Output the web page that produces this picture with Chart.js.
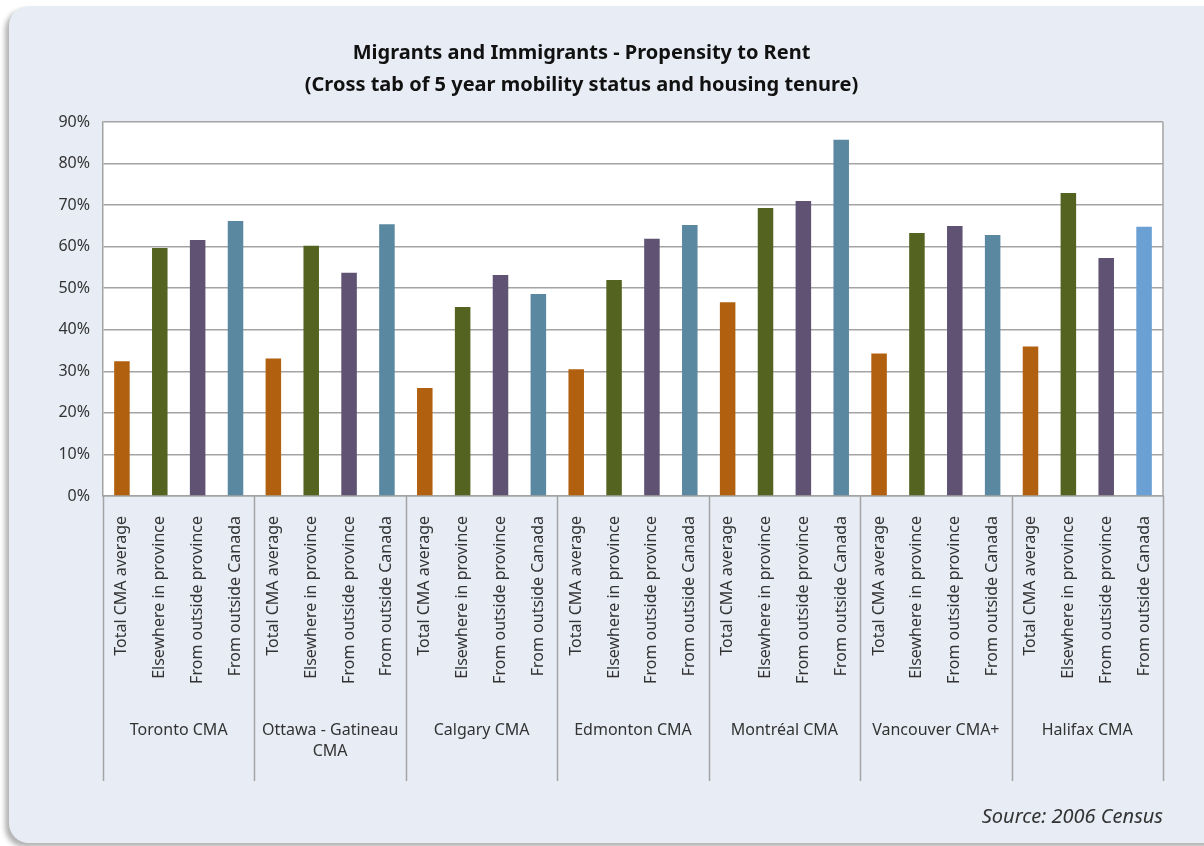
<!DOCTYPE html>
<html>
<head>
<meta charset="utf-8">
<script src="https://cdn.jsdelivr.net/npm/chart.js@4.4.0/dist/chart.umd.min.js"></script>
<style>
  html, body { margin: 0; padding: 0; background: #ffffff; }
  body { width: 1204px; height: 846px; position: relative; overflow: hidden; }
  .card {
    position: absolute; left: 9px; top: 6px; width: 1220px; height: 837px;
    background: #e8edf5; border-radius: 20px;
    box-shadow: -4px 4px 5px rgba(0, 0, 0, 0.3);
  }
  .wrap { position: absolute; left: 0; top: 0; width: 1204px; height: 846px; }
</style>
</head>
<body>
<div class="card"></div>
<div class="wrap"><canvas id="chart"></canvas></div>
<script>
// CMAs (outer category level)
const groups = ["Toronto CMA", ["Ottawa - Gatineau", "CMA"], "Calgary CMA", "Edmonton CMA",
  "Montréal CMA", "Vancouver CMA+", "Halifax CMA"];
// mobility status (inner category level)
const subCategories = ["Total CMA average", "Elsewhere in province", "From outside province", "From outside Canada"];

// % renting, one value per CMA
const totalAverage    = [32.4, 33.1, 26.0, 30.5, 46.6, 34.3, 36.0];
const elsewhereInProv = [59.7, 60.2, 45.5, 52.0, 69.3, 63.3, 72.9];
const outsideProvince = [61.6, 53.7, 53.2, 61.9, 71.0, 65.0, 57.3];
const outsideCanada   = [66.2, 65.4, 48.6, 65.2, 85.7, 62.8, 64.8];

const yTicks = [0, 10, 20, 30, 40, 50, 60, 70, 80, 90];

const subColors = ["#b1600f", "#556321", "#5f5272", "#5b88a1"];
const halifaxOutsideColor = "#6aa0d4";

const series = [totalAverage, elsewhereInProv, outsideProvince, outsideCanada];
const labels = [];
const values = [];
const colors = [];
groups.forEach((g, gi) => {
  subCategories.forEach((s, si) => {
    labels.push(s);
    values.push(series[si][gi]);
    colors.push(gi === groups.length - 1 && si === 3 ? halifaxOutsideColor : subColors[si]);
  });
});

const lineColor = "#a3a3a3";
const baseFont = "'Noto Sans', 'Open Sans', sans-serif";

const framePlugin = {
  id: "frame",
  beforeDraw(chart) {
    const a = chart.chartArea;
    const ctx = chart.ctx;
    ctx.save();
    ctx.fillStyle = "#ffffff";
    ctx.fillRect(a.left, a.top, a.right - a.left, a.bottom - a.top);
    ctx.restore();
  },
  afterDraw(chart) {
    const a = chart.chartArea;
    const ctx = chart.ctx;
    const x = chart.scales.x;
    ctx.save();
    ctx.strokeStyle = lineColor;
    ctx.lineWidth = 1.5;
    ctx.beginPath();
    ctx.moveTo(a.right, a.top);
    ctx.lineTo(a.right, a.bottom);
    ctx.stroke();

    // group separators below the axis + outer category labels
    const n = subCategories.length;
    const bounds = [];
    for (let g = 0; g <= groups.length; g++) {
      if (g === 0) bounds.push(x.left);
      else if (g === groups.length) bounds.push(x.right);
      else bounds.push((x.getPixelForValue(g * n - 1) + x.getPixelForValue(g * n)) / 2);
    }
    ctx.beginPath();
    bounds.forEach(b => {
      ctx.moveTo(Math.round(b) + 0.5, a.bottom);
      ctx.lineTo(Math.round(b) + 0.5, 781);
    });
    ctx.stroke();

    ctx.fillStyle = "#333333";
    ctx.font = "16px " + baseFont;
    ctx.textAlign = "center";
    ctx.textBaseline = "middle";
    groups.forEach((g, gi) => {
      const cx = (bounds[gi] + bounds[gi + 1]) / 2;
      const lines = Array.isArray(g) ? g : [g];
      lines.forEach((t, li) => ctx.fillText(t, cx, 730 + li * 21));
    });
    ctx.restore();
  }
};

new Chart(document.getElementById("chart"), {
  type: "bar",
  data: {
    labels: labels,
    datasets: [{
      data: values,
      backgroundColor: colors,
      borderWidth: 0,
      categoryPercentage: 1.0,
      barPercentage: 0.41
    }]
  },
  options: {
    responsive: true,
    maintainAspectRatio: false,
    animation: false,
    layout: { padding: { left: 0, right: 41, top: 0, bottom: 0 } },
    plugins: {
      legend: { display: false },
      tooltip: { enabled: false },
      title: {
        display: true,
        text: ["Migrants and Immigrants - Propensity to Rent",
               "(Cross tab of 5 year mobility status and housing tenure)"],
        color: "#111111",
        font: { family: baseFont, size: 20, weight: "bold", lineHeight: 1.6 },
        padding: { top: 37, bottom: 21 }
      },
      subtitle: {
        display: true,
        position: "bottom",
        align: "end",
        text: "Source: 2006 Census",
        color: "#333333",
        font: { family: baseFont, size: 20, style: "italic", lineHeight: 1.2 },
        padding: { top: 10, bottom: 17 }
      }
    },
    scales: {
      x: {
        grid: { display: false, drawTicks: false },
        border: { display: true, color: lineColor, width: 1.5 },
        ticks: {
          autoSkip: false,
          minRotation: 90,
          maxRotation: 90,
          padding: 20,
          color: "#333333",
          font: { family: baseFont, size: 16 }
        },
        afterFit(scale) { scale.height = 299; }
      },
      y: {
        min: 0,
        max: 90,
        afterBuildTicks(scale) { scale.ticks = yTicks.map(v => ({ value: v })); },
        grid: { color: lineColor, lineWidth: 1.5, drawTicks: false },
        border: { display: true, color: lineColor, width: 1.5 },
        ticks: {
          padding: 13,
          color: "#333333",
          font: { family: baseFont, size: 16 },
          callback: v => v + "%"
        },
        afterFit(scale) { scale.width = 103; }
      }
    }
  },
  plugins: [framePlugin]
});
</script>
</body>
</html>
